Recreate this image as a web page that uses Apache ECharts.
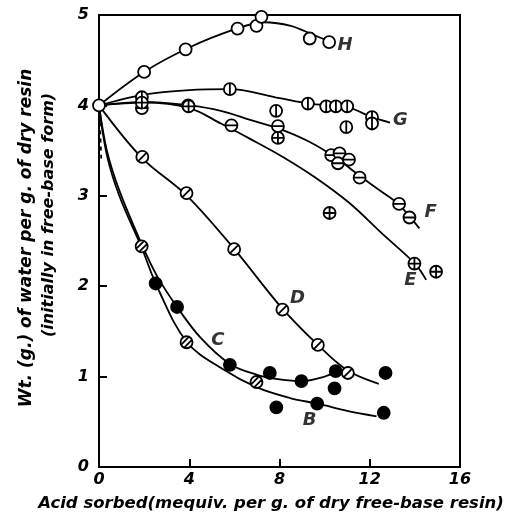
<!DOCTYPE html>
<html>
<head>
<meta charset="utf-8">
<script src="https://cdn.jsdelivr.net/npm/echarts@6/dist/echarts.min.js"></script>
<style>
  html, body { margin: 0; padding: 0; background: #fff; }
  #chart { width: 523px; height: 528px; }
</style>
</head>
<body>
<div id="chart"></div>
<script>
// axis ticks
const xTicks = [0, 4, 8, 12, 16];
const yTicks = [0, 1, 2, 3, 4, 5];

// measured points, one list per curve
const pointsH = [[0, 4], [2.0, 4.37], [3.84, 4.62], [6.14, 4.85], [6.98, 4.88], [7.2, 4.98], [9.34, 4.74], [10.2, 4.70]];
const pointsG = [[1.9, 4.09], [5.8, 4.18], [7.85, 3.94], [9.26, 4.02], [10.07, 3.99], [10.5, 3.99], [11.0, 3.99], [10.96, 3.76], [12.1, 3.87], [12.1, 3.8]];
const pointsF = [[1.9, 3.97], [3.95, 4.0], [5.87, 3.78], [7.93, 3.77], [10.29, 3.45], [10.66, 3.47], [10.59, 3.36], [11.08, 3.40], [11.55, 3.2], [13.3, 2.91], [13.76, 2.76]];
const pointsE = [[1.9, 4.03], [3.97, 3.99], [7.93, 3.64], [10.22, 2.81], [13.98, 2.25], [14.94, 2.16]];
const pointsD = [[1.92, 3.43], [3.88, 3.03], [5.99, 2.41], [8.13, 1.74], [9.7, 1.35], [11.03, 1.04]];
const pointsC = [[2.51, 2.03], [3.46, 1.77], [5.8, 1.13], [7.57, 1.04], [8.97, 0.95], [10.49, 1.06], [10.44, 0.87], [7.86, 0.66], [9.67, 0.70], [12.62, 0.60], [12.7, 1.04]];
const pointsB = [[1.89, 2.44], [3.88, 1.38], [6.98, 0.94]];

// drawn (fitted) curves
const curveH = [[0, 4], [2, 4.37], [4, 4.64], [6, 4.84], [7.3, 4.92], [8.5, 4.88], [9.5, 4.78], [10.3, 4.70]];
const curveG = [[0, 4], [2, 4.12], [4, 4.17], [5.8, 4.18], [8, 4.08], [9.3, 4.02], [11, 3.98], [12.1, 3.87], [12.9, 3.81]];
const curveF = [[0, 4], [2, 4.04], [4, 4.0], [5.4, 3.94], [6.7, 3.84], [8, 3.74], [9.3, 3.6], [10.5, 3.42], [11.5, 3.23], [12.5, 3.05], [13.3, 2.9], [14.2, 2.64]];
const curveE = [[0, 4], [2, 4.03], [4, 3.97], [5.4, 3.8], [6.7, 3.63], [8.15, 3.43], [9.6, 3.2], [11.1, 2.92], [12.6, 2.57], [14, 2.25], [14.5, 2.07]];
const curveD = [[0, 4], [1.9, 3.42], [3.9, 3.0], [6, 2.41], [8.1, 1.76], [9.7, 1.35], [11, 1.07], [12.4, 0.92]];
const curveC = [[0, 4], [0.35, 3.5], [0.9, 3.06], [1.9, 2.46], [2.6, 2.1], [3.46, 1.77], [4.5, 1.43], [5.8, 1.14], [7, 1.02], [8, 0.97], [9, 0.95], [10, 1.0], [10.6, 1.06]];
const curveB = [[0, 4], [0.35, 3.45], [0.9, 3.0], [1.9, 2.42], [2.6, 1.98], [3.9, 1.38], [5.5, 1.08], [7, 0.88], [8.5, 0.76], [9.7, 0.70], [11, 0.62], [12.3, 0.56]];
const curveDash = [[0.03, 3.9], [0.1, 3.4]];

// curve letters
const curveNames = ['H', 'G', 'F', 'E', 'D', 'C', 'B'];
const curveNamePos = [[10.9, 4.67], [13.36, 3.84], [14.7, 2.82], [13.8, 2.07], [8.8, 1.87], [5.27, 1.40], [9.34, 0.52]];

const xTitle = 'Acid sorbed(mequiv. per g. of dry free-base resin)';
const yTitle1 = 'Wt. (g.) of water per g. of dry resin';
const yTitle2 = '(initially in free-base form)';

const font = 'DejaVu Sans';
const circ = 'M0,10 A10,10 0 1,1 20,10 A10,10 0 1,1 0,10 Z ';
const symH = 'path://' + circ;
const symG = 'path://' + circ + 'M10,0 L10,20';
const symF = 'path://' + circ + 'M0,10 L20,10';
const symE = 'path://' + circ + 'M10,0 L10,20 M0,10 L20,10';
const symD = 'path://' + circ + 'M4,16 L16,4';
const symB = 'path://' + circ + 'M2,13 L13,2 M7,18 L18,7';

function curve(data, dashed) {
  return {
    type: 'line', data: data, smooth: 0.35, showSymbol: false, silent: true, z: 2,
    lineStyle: { color: '#000', width: 1.8, type: dashed ? [4, 4] : 'solid' }
  };
}
function points(data, symbol, fill) {
  return {
    type: 'scatter', data: data, symbol: symbol, symbolSize: 12, symbolKeepAspect: true, z: 5, clip: false,
    itemStyle: { color: fill, borderColor: '#000', borderWidth: 1.8, opacity: 1 }
  };
}

const chart = echarts.init(document.getElementById('chart'));
chart.setOption({
  animation: false,
  grid: { left: 99, right: 63, top: 15, bottom: 61, show: true, borderColor: '#000', borderWidth: 2, backgroundColor: 'transparent' },
  xAxis: {
    type: 'value', min: xTicks[0], max: xTicks[xTicks.length - 1], interval: 4,
    splitLine: { show: false },
    axisLine: { lineStyle: { color: '#000', width: 2 } },
    axisTick: { inside: true, length: 8, lineStyle: { color: '#000', width: 2 } },
    axisLabel: { margin: 5, color: '#000', fontSize: 16, fontWeight: 'bold', fontStyle: 'italic', fontFamily: font }
  },
  yAxis: {
    type: 'value', min: yTicks[0], max: yTicks[yTicks.length - 1], interval: 1,
    splitLine: { show: false },
    axisLine: { lineStyle: { color: '#000', width: 2 } },
    axisTick: { inside: true, length: 8, lineStyle: { color: '#000', width: 2 } },
    axisLabel: { margin: 10, color: '#000', fontSize: 16, fontWeight: 'bold', fontStyle: 'italic', fontFamily: font }
  },
  graphic: [
    { type: 'text', x: 27, y: 238, rotation: Math.PI / 2,
      style: { text: yTitle1, fill: '#000', font: 'italic bold 17px ' + font, align: 'center', verticalAlign: 'middle' } },
    { type: 'text', x: 49, y: 215, rotation: Math.PI / 2,
      style: { text: yTitle2, fill: '#000', font: 'italic bold 16px ' + font, align: 'center', verticalAlign: 'middle' } },
    { type: 'text', x: 271, y: 504,
      style: { text: xTitle, fill: '#000', font: 'italic bold 16.5px ' + font, align: 'center', verticalAlign: 'middle' } }
  ],
  series: [
    curve(curveH), curve(curveG), curve(curveF), curve(curveE), curve(curveD), curve(curveC), curve(curveB), curve(curveDash, true),
    points(pointsH, symH, '#fff'),
    points(pointsG, symG, '#fff'),
    points(pointsF, symF, '#fff'),
    points(pointsE, symE, '#fff'),
    points(pointsD, symD, '#fff'),
    points(pointsC, 'circle', '#000'),
    points(pointsB, symB, '#fff'),
    {
      type: 'scatter', silent: true, z: 6, symbolSize: 1, itemStyle: { color: 'transparent' },
      data: curveNamePos.map((p, i) => ({ value: p, name: curveNames[i] })),
      label: { show: true, position: 'inside', formatter: p => p.name, color: '#000', textBorderWidth: 0, fontSize: 18, fontWeight: 'bold', fontStyle: 'italic', fontFamily: font }
    }
  ]
});
</script>
</body>
</html>
